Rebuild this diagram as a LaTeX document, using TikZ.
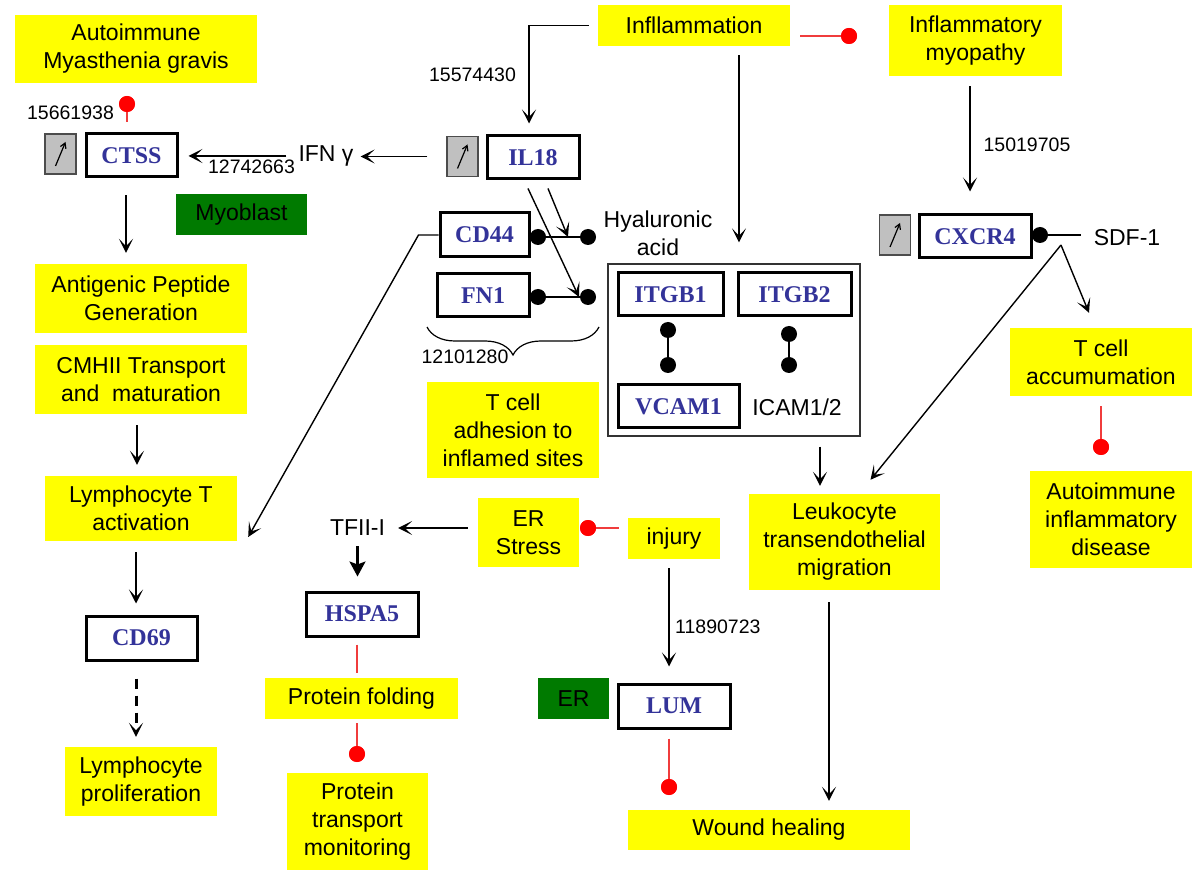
\documentclass[tikz,border=0pt]{standalone}
\usepackage{fontspec}
\setmainfont{Liberation Sans}
\newfontfamily\genefont{Liberation Serif}
\usetikzlibrary{arrows.meta,calc,decorations.pathreplacing}
\definecolor{ybg}{RGB}{255,255,0}
\definecolor{gbg}{RGB}{0,122,0}
\definecolor{genec}{RGB}{51,51,153}
\definecolor{greyb}{RGB}{192,192,192}
\definecolor{redc}{RGB}{255,0,0}
\definecolor{redl}{RGB}{240,60,60}
\begin{document}
\begin{tikzpicture}[x=1pt,y=-1pt,
  lbl/.style={font=\fontsize{23}{28}\selectfont, align=center, inner sep=0pt},
  num/.style={font=\fontsize{19.5}{23}\selectfont, inner sep=0pt},
  ybox/.style={lbl, fill=ybg},
  gbox/.style={lbl, fill=gbg},
  gene/.style={draw=black, line width=3pt, fill=white, inner sep=0pt,
    font=\genefont\bfseries\fontsize{24}{26}\selectfont, text=genec},
  greybox/.style={draw=black!70, line width=1.3pt, fill=greyb, inner sep=0pt,
    minimum width=31pt, minimum height=40pt},
  bdot/.style={circle, fill=black, inner sep=0pt, minimum size=16pt},
  rdot/.style={circle, fill=redc, inner sep=0pt, minimum size=16pt},
  arr/.style={draw=black, line width=1.4pt, -{Stealth[length=14pt,width=14pt,inset=7.5pt]}},
  bond/.style={draw=black, line width=1.5pt},
  redline/.style={draw=redl, line width=1.4pt},
]
\useasboundingbox (0,0) rectangle (1200,882);
\fill[white] (0,0) rectangle (1200,882);

% ---------- yellow / green boxes ----------
\node[ybox, minimum width=242pt, minimum height=68pt] (mg) at (136,49) {Autoimmune\\Myasthenia gravis};
\node[ybox, minimum width=192pt, minimum height=41pt] (infl) at (694,25.5) {Infllammation};
\node[ybox, minimum width=173pt, minimum height=71pt] (myo) at (975.5,40.5) {Inflammatory\\myopathy};
\node[gbox, minimum width=131pt, minimum height=41pt] (myob) at (241.5,214.5) {Myoblast};
\node[ybox, minimum width=212pt, minimum height=69pt] (antig) at (141,298.5) {Antigenic Peptide\\Generation};
\node[ybox, minimum width=212pt, minimum height=69pt] (cmh) at (141,379.5) {CMHII Transport\\and\ \ maturation};
\node[ybox, minimum width=192pt, minimum height=65pt] (lymT) at (141,508.5) {Lymphocyte T\\activation};
\node[ybox, minimum width=152pt, minimum height=69pt] (lymP) at (141,781.5) {Lymphocyte\\proliferation};
\node[ybox, minimum width=172pt, minimum height=96pt] (tadh) at (513,430) {T cell\\adhesion to\\inflamed sites};
\node[ybox, minimum width=101pt, minimum height=69pt] (ers) at (528.5,532.5) {ER\\Stress};
\node[ybox, minimum width=92pt, minimum height=41pt] (inj) at (674,538.5) {injury};
\node[ybox, minimum width=193pt, minimum height=41pt] (pfold) at (361.5,698.5) {Protein folding};
\node[ybox, minimum width=141pt, minimum height=97pt] (ptm) at (357.5,821.5) {Protein\\transport\\monitoring};
\node[gbox, minimum width=71pt, minimum height=41pt] (er) at (573.5,698.5) {ER};
\node[ybox, minimum width=282pt, minimum height=40pt] (wound) at (769,830) {Wound healing};
\node[ybox, minimum width=191pt, minimum height=96pt] (leuk) at (844.5,542) {Leukocyte\\transendothelial\\migration};
\node[ybox, minimum width=182pt, minimum height=68pt] (tacc) at (1101,362) {T cell\\accumumation};
\node[ybox, minimum width=162pt, minimum height=97pt] (aid) at (1111,519.5) {Autoimmune\\inflammatory\\disease};

% ---------- container ----------
\node[draw=black!80, line width=1.3pt, minimum width=252pt, minimum height=172pt, inner sep=0pt] (bigbox) at (734,350) {};

% ---------- gene boxes ----------
\node[gene, minimum width=91pt, minimum height=43pt] (ctss) at (131.5,155.5) {CTSS};
\node[gene, minimum width=92pt, minimum height=43pt] (il18) at (533,157.5) {IL18};
\node[gene, minimum width=89pt, minimum height=44pt] (cd44) at (484.5,235) {CD44};
\node[gene, minimum width=92pt, minimum height=43pt] (fn1) at (483,295.5) {FN1};
\node[gene, minimum width=105pt, minimum height=43pt] (itgb1) at (670.5,294.5) {ITGB1};
\node[gene, minimum width=113pt, minimum height=43pt] (itgb2) at (794.5,294.5) {ITGB2};
\node[gene, minimum width=121pt, minimum height=43pt] (vcam1) at (678.5,406.5) {VCAM1};
\node[gene, minimum width=112pt, minimum height=43pt] (cxcr4) at (975,236.5) {CXCR4};
\node[gene, minimum width=111pt, minimum height=44pt] (cd69) at (141.5,638) {CD69};
\node[gene, minimum width=112pt, minimum height=44pt] (hspa5) at (362,614) {HSPA5};
\node[gene, minimum width=112pt, minimum height=44pt] (lum) at (674,706) {LUM};

% ---------- grey up-regulation boxes ----------
\node[greybox] (g1) at (60.5,154) {};
\node[greybox] (g2) at (462.5,156.5) {};
\node[greybox] (g3) at (895,235) {};
\foreach \g in {g1,g2,g3}{
  \draw[line width=1.2pt, -{Straight Barb[length=5pt,width=6pt]}] ([xshift=-5pt,yshift=-12pt]\g.center) -- ([xshift=5pt,yshift=12pt]\g.center);
}

% ---------- plain labels ----------
\node[num] (n1) at (70.5,113) {15661938};
\node[lbl] (ifn) at (326,156) {IFN γ};
\node[num] (n2) at (251.5,167) {12742663};
\node[num] (n3) at (472.5,75) {15574430};
\node[num] (n4) at (1027,145) {15019705};
\node[lbl] (hya) at (658,233) {Hyaluronic\\acid};
\node[lbl] (icam) at (797,407) {ICAM1/2};
\node[lbl] (sdf) at (1127,238) {SDF-1};
\node[num] (n5) at (465,357) {12101280};
\node[lbl] (tfii) at (357.5,528) {TFII-I};
\node[num, anchor=west] (n6) at (675,627) {11890723};

% ---------- dots ----------
\node[bdot] (dcd) at (538,237) {};
\node[bdot] (dhy) at (588,237) {};
\node[bdot] (dfn) at (538,297) {};
\node[bdot] (dfr) at (588,297) {};
\node[bdot] (d1a) at (668,330) {};
\node[bdot] (d1b) at (668,365) {};
\node[bdot] (d2a) at (789,334) {};
\node[bdot] (d2b) at (789,365) {};
\node[bdot] (dcx) at (1040,235) {};

\node[rdot] (r1) at (127,104) {};
\node[rdot] (r2) at (849,36) {};
\node[rdot] (r3) at (588,528) {};
\node[rdot] (r4) at (357,754) {};
\node[rdot] (r5) at (669,787) {};
\node[rdot] (r6) at (1101,447) {};

\coordinate (split) at (1061,245);

% ---------- bonds ----------
\draw[bond] (dcd) -- (dhy);
\draw[bond] (dfn) -- (dfr);
\draw[bond] (d1a) -- (d1b);
\draw[bond] (d2a) -- (d2b);
\draw[bond, shorten >=13pt] (dcx) -- (dcx -| sdf.west);

% ---------- arrows ----------
\draw[arr, shorten <=12pt, shorten >=10pt] (ifn.west) -- (ifn.west -| ctss.east);
\draw[arr, shorten <=19pt, shorten >=7pt] (g2.west) -- (g2.west -| ifn.east);
\draw[arr] ([xshift=-9pt]infl.west) -| ([xshift=-4pt,yshift=11pt]il18.north);
\draw[arr] ([xshift=45pt,yshift=-9pt]infl.south) -- ([xshift=5pt,yshift=21pt]bigbox.north);
\draw[arr] ([xshift=-5.5pt,yshift=-10pt]myo.south) -- ([xshift=-5pt,yshift=22pt]cxcr4.north);
\draw[arr] (split) -- ([xshift=-12pt,yshift=15pt]tacc.north);
\draw[arr] (split) -- ([xshift=26pt,yshift=14pt]leuk.north);
\draw[arr] ([xshift=86pt,yshift=-10pt]bigbox.south) -- ([xshift=-24.5pt,yshift=8pt]leuk.north);
\draw[arr] ([xshift=-15.5pt,yshift=-12pt]leuk.south) -- ([xshift=60pt,yshift=9pt]wound.north);
\draw[arr] ([xshift=-5.5pt,yshift=-17pt]ctss.south) -- ([xshift=-15pt,yshift=11pt]antig.north);
\draw[arr] ([xshift=-4pt,yshift=-11pt]cmh.south) -- ([xshift=-4pt,yshift=11pt]lymT.north);
\draw[arr] ([xshift=-5pt,yshift=-11pt]lymT.south) -- ([xshift=-5.5pt,yshift=11pt]cd69.north);
\draw[arr, line width=3pt, dash pattern=on 10pt off 7pt] ([xshift=-5.5pt,yshift=-17pt]cd69.south) -- ([xshift=-5pt,yshift=10pt]lymP.north);
\draw[arr] (cd44.west) -- ++(-20,0) -- ([xshift=11pt,yshift=-28.5pt]lymT.east);
\draw[arr] ([xshift=15pt,yshift=-8pt]il18.south) -- ($(dcd)!0.6!(dhy)$);
\draw[arr] ([xshift=-5pt,yshift=-8pt]il18.south) -- ($(dfn)!0.82!(dfr)$);
\draw[arr, shorten <=10pt, shorten >=13pt] (ers.west |- tfii.east) -- (tfii.east);
\draw[line width=2.4pt, -{Stealth[length=15pt,width=16pt,inset=3pt]}, shorten <=10pt, shorten >=14pt] (tfii.south) -- (tfii.south |- hspa5.north);
\draw[arr] ([xshift=-5pt,yshift=-9pt]inj.south) -- ([xshift=-5pt,yshift=16pt]lum.north);

% ---------- inhibition (red) ----------
\draw[redline] (r1) -- ([xshift=-4.5pt,yshift=10pt]ctss.north);
\draw[redline, shorten <=10pt] (infl.east |- r2) -- (r2);
\draw[redline, shorten <=9pt] (inj.west |- r3) -- (r3);
\draw[redline] ([xshift=-5pt,yshift=-7pt]hspa5.south) -- ([xshift=-4.5pt,yshift=5pt]pfold.north);
\draw[redline] ([xshift=-4.5pt,yshift=-4pt]pfold.south) -- (r4);
\draw[redline] ([xshift=-5pt,yshift=-9pt]lum.south) -- (r5);
\draw[redline] ([yshift=-10pt]tacc.south) -- (r6);
\node[rdot] at (r1) {};
\node[rdot] at (r2) {};
\node[rdot] at (r3) {};
\node[rdot] at (r4) {};
\node[rdot] at (r5) {};
\node[rdot] at (r6) {};

% ---------- brace ----------
\draw[line width=1.2pt, decorate, decoration={brace, amplitude=28pt, aspect=0.5}] (599,327) -- (427,327);
\end{tikzpicture}
\end{document}
